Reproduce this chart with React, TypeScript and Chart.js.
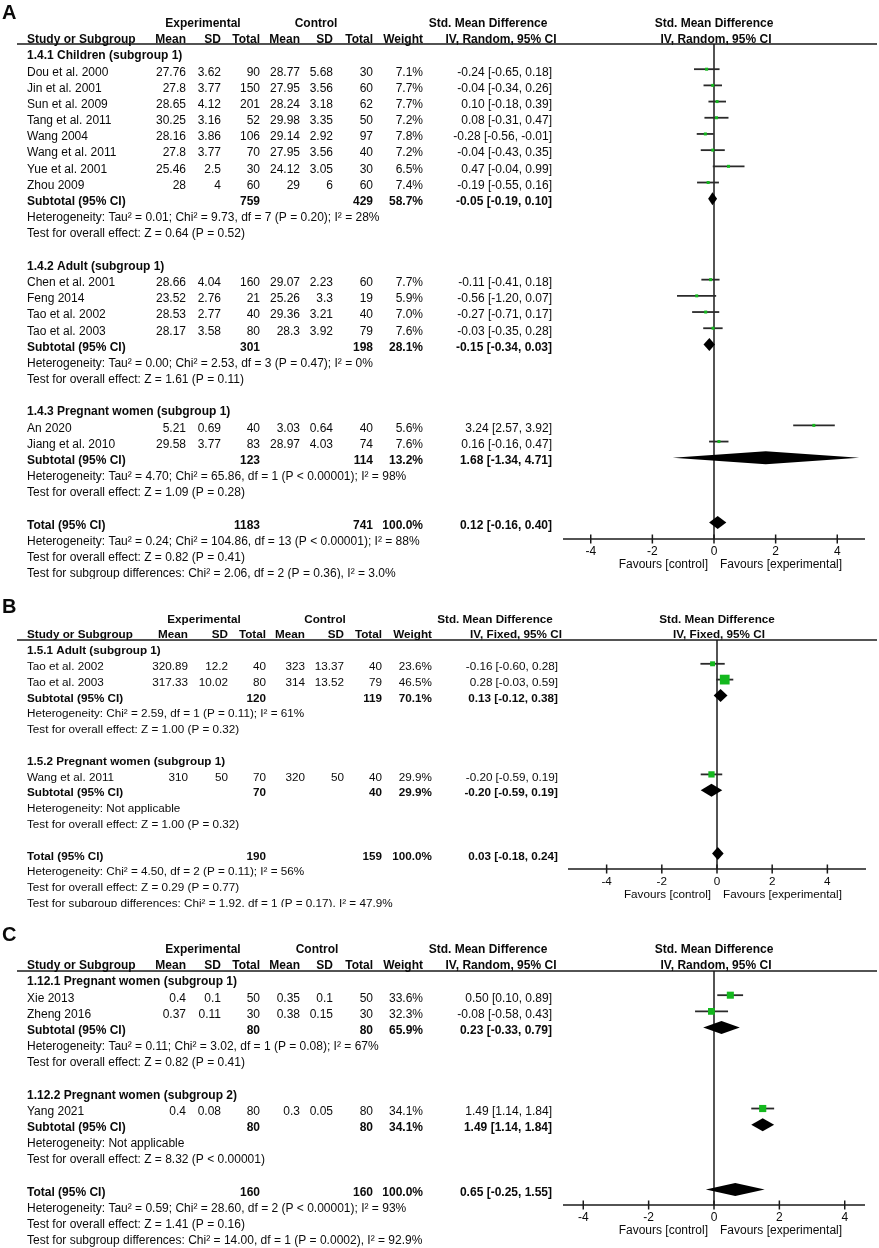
import React, { useEffect, useRef } from 'react';
import { Chart, registerables } from 'chart.js';
Chart.register(...registerables);

// ---------------- Panel A ----------------
const A_groups = ['1.4.1 Children (subgroup 1)', '1.4.2 Adult (subgroup 1)', '1.4.3 Pregnant women (subgroup 1)'];
const A_studyGroup = [0, 0, 0, 0, 0, 0, 0, 0, 1, 1, 1, 1, 2, 2];
const A_study = ['Dou et al. 2000', 'Jin et al. 2001', 'Sun et al. 2009', 'Tang et al. 2011', 'Wang 2004', 'Wang et al. 2011', 'Yue et al. 2001', 'Zhou 2009', 'Chen et al. 2001', 'Feng 2014', 'Tao et al. 2002', 'Tao et al. 2003', 'An 2020', 'Jiang et al. 2010'];
const A_expMean = [27.76, 27.8, 28.65, 30.25, 28.16, 27.8, 25.46, 28, 28.66, 23.52, 28.53, 28.17, 5.21, 29.58];
const A_expSD = [3.62, 3.77, 4.12, 3.16, 3.86, 3.77, 2.5, 4, 4.04, 2.76, 2.77, 3.58, 0.69, 3.77];
const A_expN = [90, 150, 201, 52, 106, 70, 30, 60, 160, 21, 40, 80, 40, 83];
const A_ctlMean = [28.77, 27.95, 28.24, 29.98, 29.14, 27.95, 24.12, 29, 29.07, 25.26, 29.36, 28.3, 3.03, 28.97];
const A_ctlSD = [5.68, 3.56, 3.18, 3.35, 2.92, 3.56, 3.05, 6, 2.23, 3.3, 3.21, 3.92, 0.64, 4.03];
const A_ctlN = [30, 60, 62, 50, 97, 40, 30, 60, 60, 19, 40, 79, 40, 74];
const A_weight = [7.1, 7.7, 7.7, 7.2, 7.8, 7.2, 6.5, 7.4, 7.7, 5.9, 7.0, 7.6, 5.6, 7.6];
const A_smd = [-0.24, -0.04, 0.10, 0.08, -0.28, -0.04, 0.47, -0.19, -0.11, -0.56, -0.27, -0.03, 3.24, 0.16];
const A_lo = [-0.65, -0.34, -0.18, -0.31, -0.56, -0.43, -0.04, -0.55, -0.41, -1.20, -0.71, -0.35, 2.57, -0.16];
const A_hi = [0.18, 0.26, 0.39, 0.47, -0.01, 0.35, 0.99, 0.16, 0.18, 0.07, 0.17, 0.28, 3.92, 0.47];
const A_subExpN = [759, 301, 123];
const A_subCtlN = [429, 198, 114];
const A_subWeight = [58.7, 28.1, 13.2];
const A_subSmd = [-0.05, -0.15, 1.68];
const A_subLo = [-0.19, -0.34, -1.34];
const A_subHi = [0.10, 0.03, 4.71];
const A_subHet = [
  'Heterogeneity: Tau² = 0.01; Chi² = 9.73, df = 7 (P = 0.20); I² = 28%',
  'Heterogeneity: Tau² = 0.00; Chi² = 2.53, df = 3 (P = 0.47); I² = 0%',
  'Heterogeneity: Tau² = 4.70; Chi² = 65.86, df = 1 (P < 0.00001); I² = 98%',
];
const A_subTest = [
  'Test for overall effect: Z = 0.64 (P = 0.52)',
  'Test for overall effect: Z = 1.61 (P = 0.11)',
  'Test for overall effect: Z = 1.09 (P = 0.28)',
];
const A_totalN = [1183, 741];
const A_totalEst = [0.12, -0.16, 0.40];
const A_totalNotes = [
  'Heterogeneity: Tau² = 0.24; Chi² = 104.86, df = 13 (P < 0.00001); I² = 88%',
  'Test for overall effect: Z = 0.82 (P = 0.41)',
  'Test for subgroup differences: Chi² = 2.06, df = 2 (P = 0.36), I² = 3.0%',
];
const A_xRange = [-4.9, 4.9];
const A_xTicks = [-4, -2, 0, 2, 4];

// ---------------- Panel B ----------------
const B_groups = ['1.5.1 Adult (subgroup 1)', '1.5.2 Pregnant women (subgroup 1)'];
const B_studyGroup = [0, 0, 1];
const B_study = ['Tao et al. 2002', 'Tao et al. 2003', 'Wang et al. 2011'];
const B_expMean = [320.89, 317.33, 310];
const B_expSD = [12.2, 10.02, 50];
const B_expN = [40, 80, 70];
const B_ctlMean = [323, 314, 320];
const B_ctlSD = [13.37, 13.52, 50];
const B_ctlN = [40, 79, 40];
const B_weight = [23.6, 46.5, 29.9];
const B_smd = [-0.16, 0.28, -0.20];
const B_lo = [-0.60, -0.03, -0.59];
const B_hi = [0.28, 0.59, 0.19];
const B_subExpN = [120, 70];
const B_subCtlN = [119, 40];
const B_subWeight = [70.1, 29.9];
const B_subSmd = [0.13, -0.20];
const B_subLo = [-0.12, -0.59];
const B_subHi = [0.38, 0.19];
const B_subHet = [
  'Heterogeneity: Chi² = 2.59, df = 1 (P = 0.11); I² = 61%',
  'Heterogeneity: Not applicable',
];
const B_subTest = [
  'Test for overall effect: Z = 1.00 (P = 0.32)',
  'Test for overall effect: Z = 1.00 (P = 0.32)',
];
const B_totalN = [190, 159];
const B_totalEst = [0.03, -0.18, 0.24];
const B_totalNotes = [
  'Heterogeneity: Chi² = 4.50, df = 2 (P = 0.11); I² = 56%',
  'Test for overall effect: Z = 0.29 (P = 0.77)',
  'Test for subgroup differences: Chi² = 1.92, df = 1 (P = 0.17), I² = 47.9%',
];
const B_xRange = [-5.4, 5.4];
const B_xTicks = [-4, -2, 0, 2, 4];

// ---------------- Panel C ----------------
const C_groups = ['1.12.1 Pregnant women (subgroup 1)', '1.12.2 Pregnant women (subgroup 2)'];
const C_studyGroup = [0, 0, 1];
const C_study = ['Xie 2013', 'Zheng 2016', 'Yang 2021'];
const C_expMean = [0.4, 0.37, 0.4];
const C_expSD = [0.1, 0.11, 0.08];
const C_expN = [50, 30, 80];
const C_ctlMean = [0.35, 0.38, 0.3];
const C_ctlSD = [0.1, 0.15, 0.05];
const C_ctlN = [50, 30, 80];
const C_weight = [33.6, 32.3, 34.1];
const C_smd = [0.50, -0.08, 1.49];
const C_lo = [0.10, -0.58, 1.14];
const C_hi = [0.89, 0.43, 1.84];
const C_subExpN = [80, 80];
const C_subCtlN = [80, 80];
const C_subWeight = [65.9, 34.1];
const C_subSmd = [0.23, 1.49];
const C_subLo = [-0.33, 1.14];
const C_subHi = [0.79, 1.84];
const C_subHet = [
  'Heterogeneity: Tau² = 0.11; Chi² = 3.02, df = 1 (P = 0.08); I² = 67%',
  'Heterogeneity: Not applicable',
];
const C_subTest = [
  'Test for overall effect: Z = 0.82 (P = 0.41)',
  'Test for overall effect: Z = 8.32 (P < 0.00001)',
];
const C_totalN = [160, 160];
const C_totalEst = [0.65, -0.25, 1.55];
const C_totalNotes = [
  'Heterogeneity: Tau² = 0.59; Chi² = 28.60, df = 2 (P < 0.00001); I² = 93%',
  'Test for overall effect: Z = 1.41 (P = 0.16)',
  'Test for subgroup differences: Chi² = 14.00, df = 1 (P = 0.0002), I² = 92.9%',
];
const C_xRange = [-4.62, 4.62];
const C_xTicks = [-4, -2, 0, 2, 4];

// ---------------- assembly ----------------
const panelA = {
  letter: 'A', method: 'IV, Random, 95% CI', groups: A_groups, studyGroup: A_studyGroup, study: A_study,
  expMean: A_expMean, expSD: A_expSD, expN: A_expN, ctlMean: A_ctlMean, ctlSD: A_ctlSD, ctlN: A_ctlN,
  weight: A_weight, smd: A_smd, lo: A_lo, hi: A_hi,
  subExpN: A_subExpN, subCtlN: A_subCtlN, subWeight: A_subWeight, subSmd: A_subSmd, subLo: A_subLo, subHi: A_subHi,
  subHet: A_subHet, subTest: A_subTest, totalN: A_totalN, totalEst: A_totalEst, totalNotes: A_totalNotes,
  xRange: A_xRange, xTicks: A_xTicks,
};
const panelB = {
  letter: 'B', method: 'IV, Fixed, 95% CI', groups: B_groups, studyGroup: B_studyGroup, study: B_study,
  expMean: B_expMean, expSD: B_expSD, expN: B_expN, ctlMean: B_ctlMean, ctlSD: B_ctlSD, ctlN: B_ctlN,
  weight: B_weight, smd: B_smd, lo: B_lo, hi: B_hi,
  subExpN: B_subExpN, subCtlN: B_subCtlN, subWeight: B_subWeight, subSmd: B_subSmd, subLo: B_subLo, subHi: B_subHi,
  subHet: B_subHet, subTest: B_subTest, totalN: B_totalN, totalEst: B_totalEst, totalNotes: B_totalNotes,
  xRange: B_xRange, xTicks: B_xTicks,
};
const panelC = {
  letter: 'C', method: 'IV, Random, 95% CI', groups: C_groups, studyGroup: C_studyGroup, study: C_study,
  expMean: C_expMean, expSD: C_expSD, expN: C_expN, ctlMean: C_ctlMean, ctlSD: C_ctlSD, ctlN: C_ctlN,
  weight: C_weight, smd: C_smd, lo: C_lo, hi: C_hi,
  subExpN: C_subExpN, subCtlN: C_subCtlN, subWeight: C_subWeight, subSmd: C_subSmd, subLo: C_subLo, subHi: C_subHi,
  subHet: C_subHet, subTest: C_subTest, totalN: C_totalN, totalEst: C_totalEst, totalNotes: C_totalNotes,
  xRange: C_xRange, xTicks: C_xTicks,
};

// layout (pixels)
const layoutA = { height: 579, rowTop: 53, rowStep: 16.19, areaTop: 44, areaBottom: 539, areaLeft: 563, areaRight: 865,
  cols: [186, 221, 260, 300, 333, 373, 423], ciRight: 552, expCenter: 203, ctlCenter: 316, head1Center: 488, head2Center: 501,
  font: 12, letterBaseline: 19, lineLeft: 17 };
const layoutB = { height: 328, rowTop: 69, rowStep: 15.8, areaTop: 61, areaBottom: 290, areaLeft: 568, areaRight: 866,
  cols: [188, 228, 266, 305, 344, 382, 432], ciRight: 558, expCenter: 204, ctlCenter: 325, head1Center: 495, head2Center: 516,
  font: 11.7, letterBaseline: 34, lineLeft: 17 };
const layoutC = { height: 341, rowTop: 72, rowStep: 16.19, areaTop: 64, areaBottom: 298, areaLeft: 563, areaRight: 865,
  cols: [186, 221, 260, 300, 333, 373, 423], ciRight: 552, expCenter: 203, ctlCenter: 317, head1Center: 488, head2Center: 501,
  font: 12, letterBaseline: 34, lineLeft: 17 };

const W = 879;
const FONT = '"Liberation Sans", Arial, Helvetica, sans-serif';
const GREEN = '#14b81e';
const TEXT = '#0a0a0a';

function buildRows(p: any) {
  const rows: any[] = [];
  let r = 0;
  p.groups.forEach((g: string, gi: number) => {
    rows.push({ r, kind: 'group', text: g }); r++;
    p.study.forEach((_s: string, i: number) => {
      if (p.studyGroup[i] === gi) { rows.push({ r, kind: 'study', i }); r++; }
    });
    rows.push({ r, kind: 'sub', gi }); r++;
    rows.push({ r, kind: 'note', text: p.subHet[gi] }); r++;
    rows.push({ r, kind: 'note', text: p.subTest[gi] }); r++;
    r++;
  });
  rows.push({ r, kind: 'total' }); r++;
  p.totalNotes.forEach((t: string) => { rows.push({ r, kind: 'note', text: t }); r++; });
  return rows;
}

const f2 = (v: number) => v.toFixed(2);
const ciStr = (e: number, l: number, h: number) => `${f2(e)} [${f2(l)}, ${f2(h)}]`;

function makePlugin(p: any, L: any, rows: any[]) {
  return {
    id: 'forest' + p.letter,
    beforeDatasetsDraw(chart: any) {
      const { ctx, chartArea: a, scales } = chart;
      const x = scales.x, y = scales.y;
      ctx.save();
      ctx.strokeStyle = '#1a1a1a';
      ctx.lineWidth = 1.5;
      // header rule
      ctx.beginPath(); ctx.moveTo(L.lineLeft, a.top); ctx.lineTo(W - 2, a.top); ctx.stroke();
      // zero line
      const x0 = x.getPixelForValue(0);
      ctx.beginPath(); ctx.moveTo(x0, a.top); ctx.lineTo(x0, a.bottom); ctx.stroke();
      // axis
      ctx.beginPath(); ctx.moveTo(a.left, a.bottom); ctx.lineTo(a.right, a.bottom); ctx.stroke();
      p.xTicks.forEach((t: number) => {
        const px = x.getPixelForValue(t);
        ctx.beginPath(); ctx.moveTo(px, a.bottom - 4.5); ctx.lineTo(px, a.bottom + 4.5); ctx.stroke();
      });
      // CI whiskers
      ctx.strokeStyle = '#2a2a2a';
      ctx.lineWidth = 1.8;
      rows.forEach((row) => {
        if (row.kind !== 'study') return;
        const py = y.getPixelForValue(row.r);
        ctx.beginPath();
        ctx.moveTo(x.getPixelForValue(p.lo[row.i]), py);
        ctx.lineTo(x.getPixelForValue(p.hi[row.i]), py);
        ctx.stroke();
      });
      ctx.restore();
    },
    afterDatasetsDraw(chart: any) {
      const { ctx, scales } = chart;
      const x = scales.x, y = scales.y;
      ctx.save();
      ctx.fillStyle = '#000';
      const diamond = (e: number, l: number, h: number, r: number) => {
        const py = y.getPixelForValue(r);
        const hh = 6.5;
        ctx.beginPath();
        ctx.moveTo(x.getPixelForValue(l), py);
        ctx.lineTo(x.getPixelForValue(e), py - hh);
        ctx.lineTo(x.getPixelForValue(h), py);
        ctx.lineTo(x.getPixelForValue(e), py + hh);
        ctx.closePath();
        ctx.fill();
      };
      rows.forEach((row) => {
        if (row.kind === 'sub') diamond(p.subSmd[row.gi], p.subLo[row.gi], p.subHi[row.gi], row.r);
        if (row.kind === 'total') diamond(p.totalEst[0], p.totalEst[1], p.totalEst[2], row.r);
      });
      ctx.restore();
    },
    afterDraw(chart: any) {
      const { ctx, chartArea: a, scales } = chart;
      const x = scales.x, y = scales.y;
      const fs = L.font;
      const c = L.cols;
      ctx.save();
      ctx.fillStyle = TEXT;
      ctx.textBaseline = 'middle';
      const txt = (s: string, px: number, py: number, align: string, bold: boolean) => {
        ctx.font = `${bold ? 'bold ' : ''}${fs}px ${FONT}`;
        ctx.textAlign = align;
        ctx.fillText(s, px, py);
      };
      const ty = (r: number) => y.getPixelForValue(r) + 3;
      // panel letter
      ctx.font = `bold 20px ${FONT}`;
      ctx.textAlign = 'left';
      ctx.textBaseline = 'alphabetic';
      ctx.fillText(p.letter, 2, L.letterBaseline);
      ctx.textBaseline = 'middle';
      // headers
      const plotCenter = (a.left + a.right) / 2;
      const h1 = ty(-2), h2 = ty(-1);
      txt('Experimental', L.expCenter, h1, 'center', true);
      txt('Control', L.ctlCenter, h1, 'center', true);
      txt('Std. Mean Difference', L.head1Center, h1, 'center', true);
      txt('Std. Mean Difference', plotCenter, h1, 'center', true);
      txt('Study or Subgroup', 27, h2, 'left', true);
      ['Mean', 'SD', 'Total', 'Mean', 'SD', 'Total', 'Weight'].forEach((s, k) => txt(s, c[k], h2, 'right', true));
      txt(p.method, L.head2Center, h2, 'center', true);
      txt(p.method, plotCenter + 2, h2, 'center', true);
      // rows
      rows.forEach((row) => {
        const py = ty(row.r);
        if (row.kind === 'group') txt(row.text, 27, py, 'left', true);
        else if (row.kind === 'note') txt(row.text, 27, py, 'left', false);
        else if (row.kind === 'study') {
          const i = row.i;
          txt(p.study[i], 27, py, 'left', false);
          const vals = [String(p.expMean[i]), String(p.expSD[i]), String(p.expN[i]), String(p.ctlMean[i]), String(p.ctlSD[i]), String(p.ctlN[i]), p.weight[i].toFixed(1) + '%'];
          vals.forEach((v, k) => txt(v, c[k], py, 'right', false));
          txt(ciStr(p.smd[i], p.lo[i], p.hi[i]), L.ciRight, py, 'right', false);
        } else if (row.kind === 'sub') {
          const g = row.gi;
          txt('Subtotal (95% CI)', 27, py, 'left', true);
          txt(String(p.subExpN[g]), c[2], py, 'right', true);
          txt(String(p.subCtlN[g]), c[5], py, 'right', true);
          txt(p.subWeight[g].toFixed(1) + '%', c[6], py, 'right', true);
          txt(ciStr(p.subSmd[g], p.subLo[g], p.subHi[g]), L.ciRight, py, 'right', true);
        } else if (row.kind === 'total') {
          txt('Total (95% CI)', 27, py, 'left', true);
          txt(String(p.totalN[0]), c[2], py, 'right', true);
          txt(String(p.totalN[1]), c[5], py, 'right', true);
          txt('100.0%', c[6], py, 'right', true);
          txt(ciStr(p.totalEst[0], p.totalEst[1], p.totalEst[2]), L.ciRight, py, 'right', true);
        }
      });
      // tick labels
      p.xTicks.forEach((t: number) => {
        txt(String(t), x.getPixelForValue(t), a.bottom + 13, 'center', false);
      });
      const x0 = x.getPixelForValue(0);
      txt('Favours [control]', x0 - 6, a.bottom + 26, 'right', false);
      txt('Favours [experimental]', x0 + 6, a.bottom + 26, 'left', false);
      ctx.restore();
    },
  };
}

function ForestPanel({ panel, layout }: { panel: any; layout: any }) {
  const ref = useRef<HTMLCanvasElement | null>(null);
  useEffect(() => {
    const L = layout;
    const rows = buildRows(panel);
    const studyRows = rows.filter((r) => r.kind === 'study');
    const yMin = (L.areaTop - L.rowTop) / L.rowStep;
    const yMax = (L.areaBottom - L.rowTop) / L.rowStep;
    const radii = studyRows.map((r) => Math.max(3, panel.weight[r.i] * 0.21) / Math.SQRT2);
    const chart = new Chart(ref.current as HTMLCanvasElement, {
      type: 'scatter',
      data: {
        datasets: [
          {
            data: studyRows.map((r) => ({ x: panel.smd[r.i], y: r.r })),
            pointStyle: 'rect',
            pointRadius: radii,
            pointHoverRadius: radii,
            backgroundColor: GREEN,
            borderWidth: 0,
            pointBorderWidth: 0,
          } as any,
        ],
      },
      options: {
        animation: false,
        responsive: false,
        devicePixelRatio: 1,
        events: [],
        layout: { padding: { left: L.areaLeft, right: W - L.areaRight, top: L.areaTop, bottom: L.height - L.areaBottom } },
        scales: {
          x: { type: 'linear', min: panel.xRange[0], max: panel.xRange[1], display: false },
          y: { type: 'linear', min: yMin, max: yMax, reverse: true, display: false },
        },
        plugins: { legend: { display: false }, tooltip: { enabled: false } },
      } as any,
      plugins: [makePlugin(panel, L, rows) as any],
    });
    return () => chart.destroy();
  }, []);
  return (
    <canvas
      ref={ref}
      width={W}
      height={layout.height}
      style={{ display: 'block', width: W, height: layout.height }}
    />
  );
}

export default function App() {
  return (
    <div style={{ position: 'absolute', left: 0, top: 0, width: W, height: 1248, background: '#fff', overflow: 'hidden' }}>
      <ForestPanel panel={panelA} layout={layoutA} />
      <ForestPanel panel={panelB} layout={layoutB} />
      <ForestPanel panel={panelC} layout={layoutC} />
    </div>
  );
}
